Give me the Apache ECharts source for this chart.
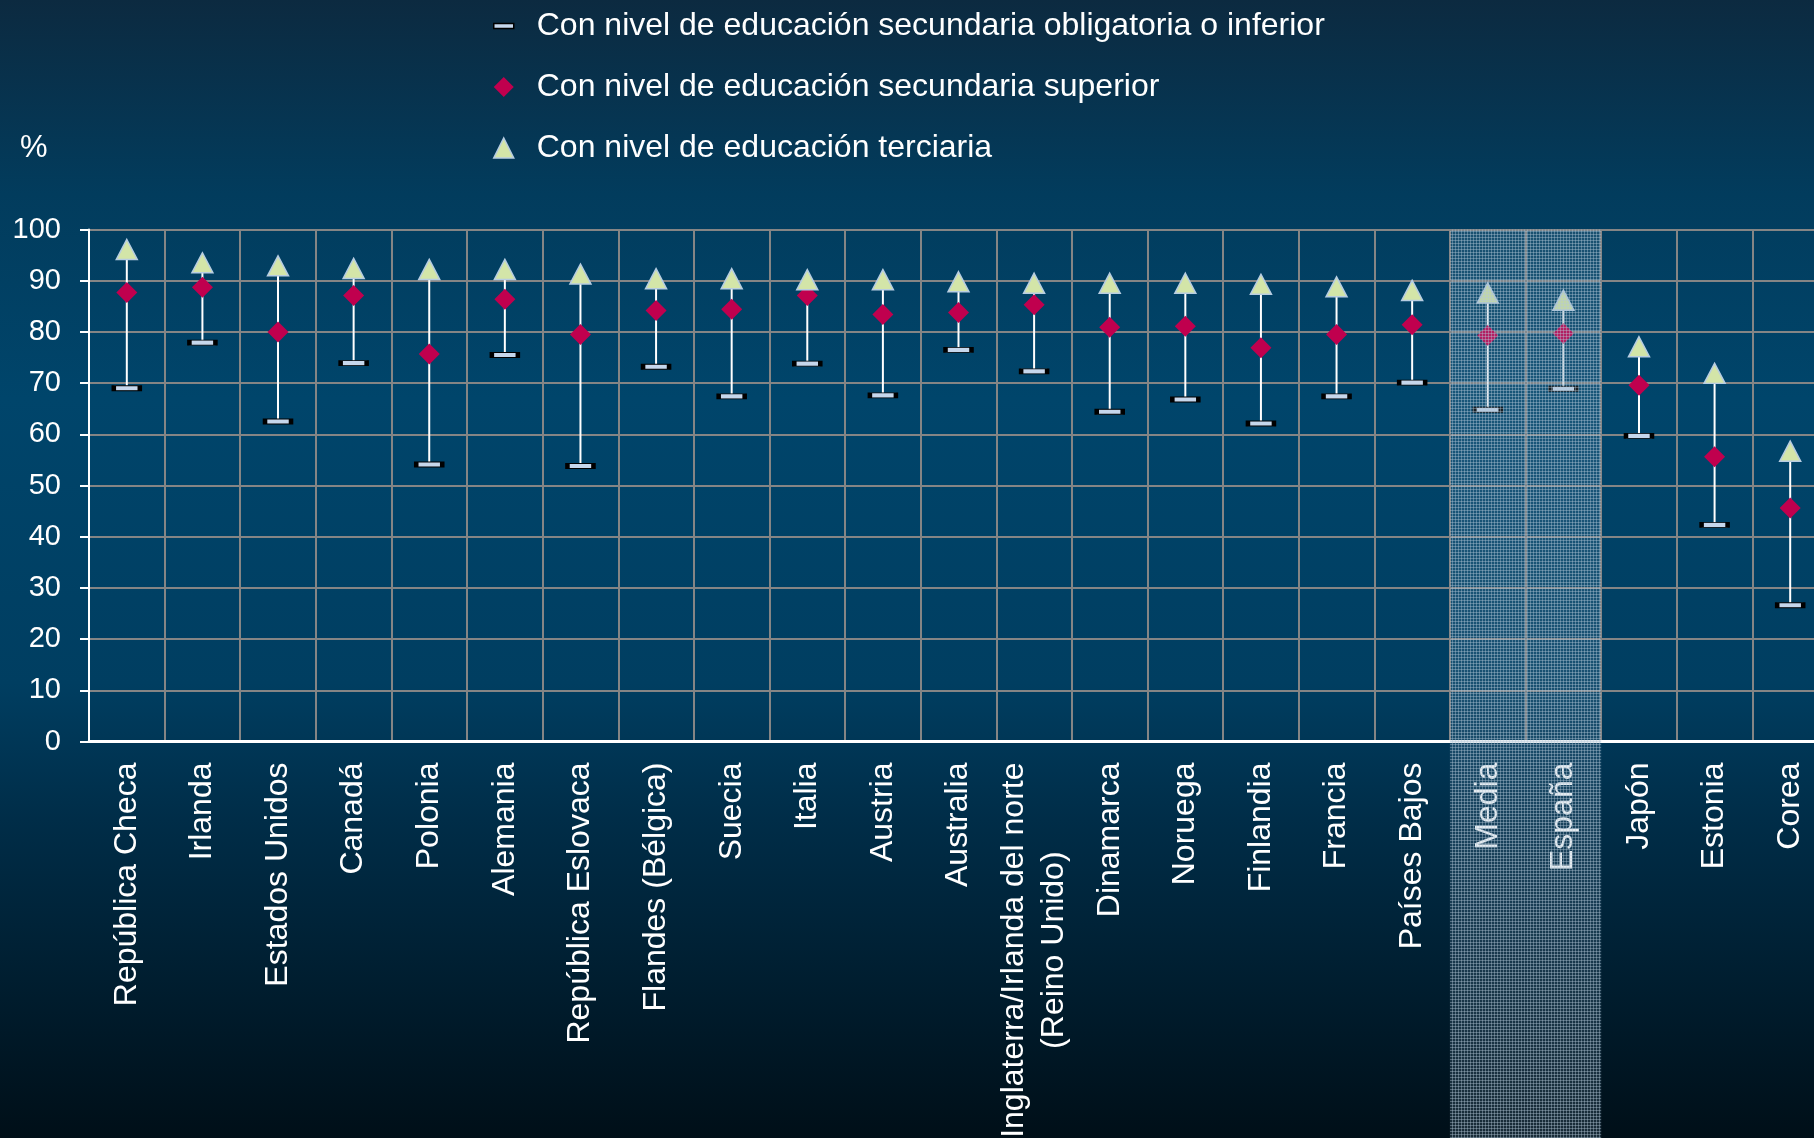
<!DOCTYPE html>
<html>
<head>
<meta charset="utf-8">
<script src="https://cdn.jsdelivr.net/npm/echarts@6/dist/echarts.min.js"></script>
<style>
html,body{margin:0;padding:0;background:#00263d;}
#chart{width:1814px;height:1138px;}
</style>
</head>
<body>
<div id="chart"></div>
<script>
const categories = ['República Checa','Irlanda','Estados Unidos','Canadá','Polonia','Alemania','República Eslovaca','Flandes (Bélgica)','Suecia','Italia','Austria','Australia','Inglaterra/Irlanda del norte\n(Reino Unido)','Dinamarca','Noruega','Finlandia','Francia','Países Bajos','Media','España','Japón','Estonia','Corea'];
const lowVals  = [69.0, 77.9, 62.5, 73.9, 54.1, 75.5, 53.8, 73.2, 67.4, 73.8, 67.6, 76.5, 72.3, 64.4, 66.8, 62.1, 67.4, 70.1, 64.8, 68.9, 59.7, 42.3, 26.6];
const midVals  = [87.7, 88.7, 80.0, 87.1, 75.7, 86.4, 79.5, 84.2, 84.4, 87.1, 83.4, 83.8, 85.3, 80.9, 81.1, 76.9, 79.5, 81.4, 79.3, 79.7, 69.6, 55.6, 45.6];
const highVals = [96.1, 93.5, 92.9, 92.4, 92.2, 92.2, 91.3, 90.4, 90.4, 90.2, 90.2, 89.8, 89.5, 89.5, 89.5, 89.3, 88.8, 88.1, 87.6, 86.2, 77.1, 71.9, 56.7];
const seriesNames = ['Con nivel de educación secundaria obligatoria o inferior','Con nivel de educación secundaria superior','Con nivel de educación terciaria'];
const highlightCats = ['Media','España'];
const yTicks = [0,10,20,30,40,50,60,70,80,90,100];

const FONT = '"Liberation Sans", Arial, sans-serif';

// hatch pattern for highlighted band
const pat = document.createElement('canvas');
pat.width = 3; pat.height = 3;
const pc = pat.getContext('2d');
pc.fillStyle = 'rgba(120,155,180,0.2)';
pc.fillRect(0,0,3,3);
pc.fillStyle = 'rgba(180,200,215,0.4)';
pc.fillRect(0,0,3,1);
pc.fillRect(0,0,1,3);

const chart = echarts.init(document.getElementById('chart'), null, {renderer:'canvas'});

const option = {
  backgroundColor: {
    type:'linear', x:0, y:0, x2:0, y2:1,
    colorStops:[
      {offset:0, color:'#0c2a40'},
      {offset:0.17, color:'#023c5d'},
      {offset:0.35, color:'#00456b'},
      {offset:0.6, color:'#003e61'},
      {offset:0.72, color:'#002d48'},
      {offset:1, color:'#000f18'}
    ]
  },
  animation:false,
  textStyle:{fontFamily:FONT},
  graphic:[{
    type:'text', left:20, top:133,
    style:{text:'%', fill:'#fff', font:'31px ' + FONT}
  }],
  legend:{
    orient:'vertical', left:488, top:5,
    itemWidth:20, itemHeight:20, itemGap:29,
    textStyle:{color:'#fff', fontSize:32, fontFamily:FONT, lineHeight:32, padding:[0,0,0,18]},
    data:[
      {name:seriesNames[0], icon:'path://M0,0h20v5h-20z', itemStyle:{color:'#c6d7ec', borderColor:'#000', borderWidth:1.5}},
      {name:seriesNames[1], icon:'diamond', itemStyle:{color:'#c0004e'}},
      {name:seriesNames[2], icon:'triangle', itemStyle:{color:'#d3e5a8', borderColor:'#b7cde2', borderWidth:1.5}}
    ],
    selectedMode:false
  },
  grid:{left:89, top:229.5, width:1739, height:512, containLabel:false, outerBoundsMode:'none'},
  xAxis:{
    type:'category', data:categories, boundaryGap:true,
    axisLine:{show:true, lineStyle:{color:'#fff', width:3}},
    axisTick:{show:false},
    splitLine:{show:true, interval:0, lineStyle:{color:'#858585', width:2}},
    axisLabel:{
      interval:0, rotate:90, margin:21, color:'#fff', fontSize:32, fontFamily:FONT,
      formatter:function(v){
        if (v.indexOf('\n') >= 0) {
          const p = v.split('\n');
          return '{a|' + p[0] + '}\n{a|' + p[1] + '}';
        }
        return v;
      },
      rich:{a:{align:'center', fontSize:32, color:'#fff', fontFamily:FONT, lineHeight:40}}
    }
  },
  yAxis:{
    type:'value', min:0, max:100, interval:10,
    axisLine:{show:true, lineStyle:{color:'#fff', width:2}},
    axisTick:{show:true, length:9, inside:false, lineStyle:{color:'#fff', width:2}},
    splitLine:{show:true, lineStyle:{color:'#858585', width:2}},
    axisLabel:{color:'#fff', fontSize:29, fontFamily:FONT, margin:28,
      formatter:function(v){ return yTicks.indexOf(v) >= 0 ? String(v) : ''; }}
  },
  series:[
    {
      type:'custom', name:'hilo', z:2, silent:true,
      data: categories.map((c,i)=>[i, lowVals[i], highVals[i]]),
      encode:{x:0, y:[1,2]},
      renderItem:function(params, api){
        const a = api.coord([api.value(0), api.value(1)]);
        const b = api.coord([api.value(0), api.value(2)]);
        return {type:'line', shape:{x1:a[0], y1:a[1], x2:b[0], y2:b[1]},
          style:{stroke:'#ffffff', lineWidth:2}};
      }
    },
    {
      type:'scatter', name:seriesNames[0], z:3,
      data: lowVals,
      symbol:'rect', symbolSize:[26,5],
      itemStyle:{color:'#c6d7ec', borderColor:'#000', borderWidth:2, opacity:1}
    },
    {
      type:'scatter', name:seriesNames[1], z:4,
      data: midVals,
      symbol:'diamond', symbolSize:21,
      itemStyle:{color:'#c0004e', opacity:1}
    },
    {
      type:'scatter', name:seriesNames[2], z:4,
      data: highVals,
      symbol:'triangle', symbolSize:[21,20],
      itemStyle:{color:'#d3e5a8', borderColor:'#b7cde2', borderWidth:1.5, opacity:1}
    },
    {
      type:'custom', name:'band', z:10, silent:true, clip:false,
      data: highlightCats.map(c=>[categories.indexOf(c), 100]),
      encode:{x:0, y:1},
      renderItem:function(params, api){
        const p = api.coord([api.value(0), api.value(1)]);
        const w = api.size([1,0])[0];
        return {type:'rect', shape:{x:p[0]-w/2, y:p[1], width:w, height:api.getHeight()-p[1]},
          style:{fill:{image:pat, repeat:'repeat'}}};
      }
    }
  ]
};
chart.setOption(option);
</script>
</body>
</html>
